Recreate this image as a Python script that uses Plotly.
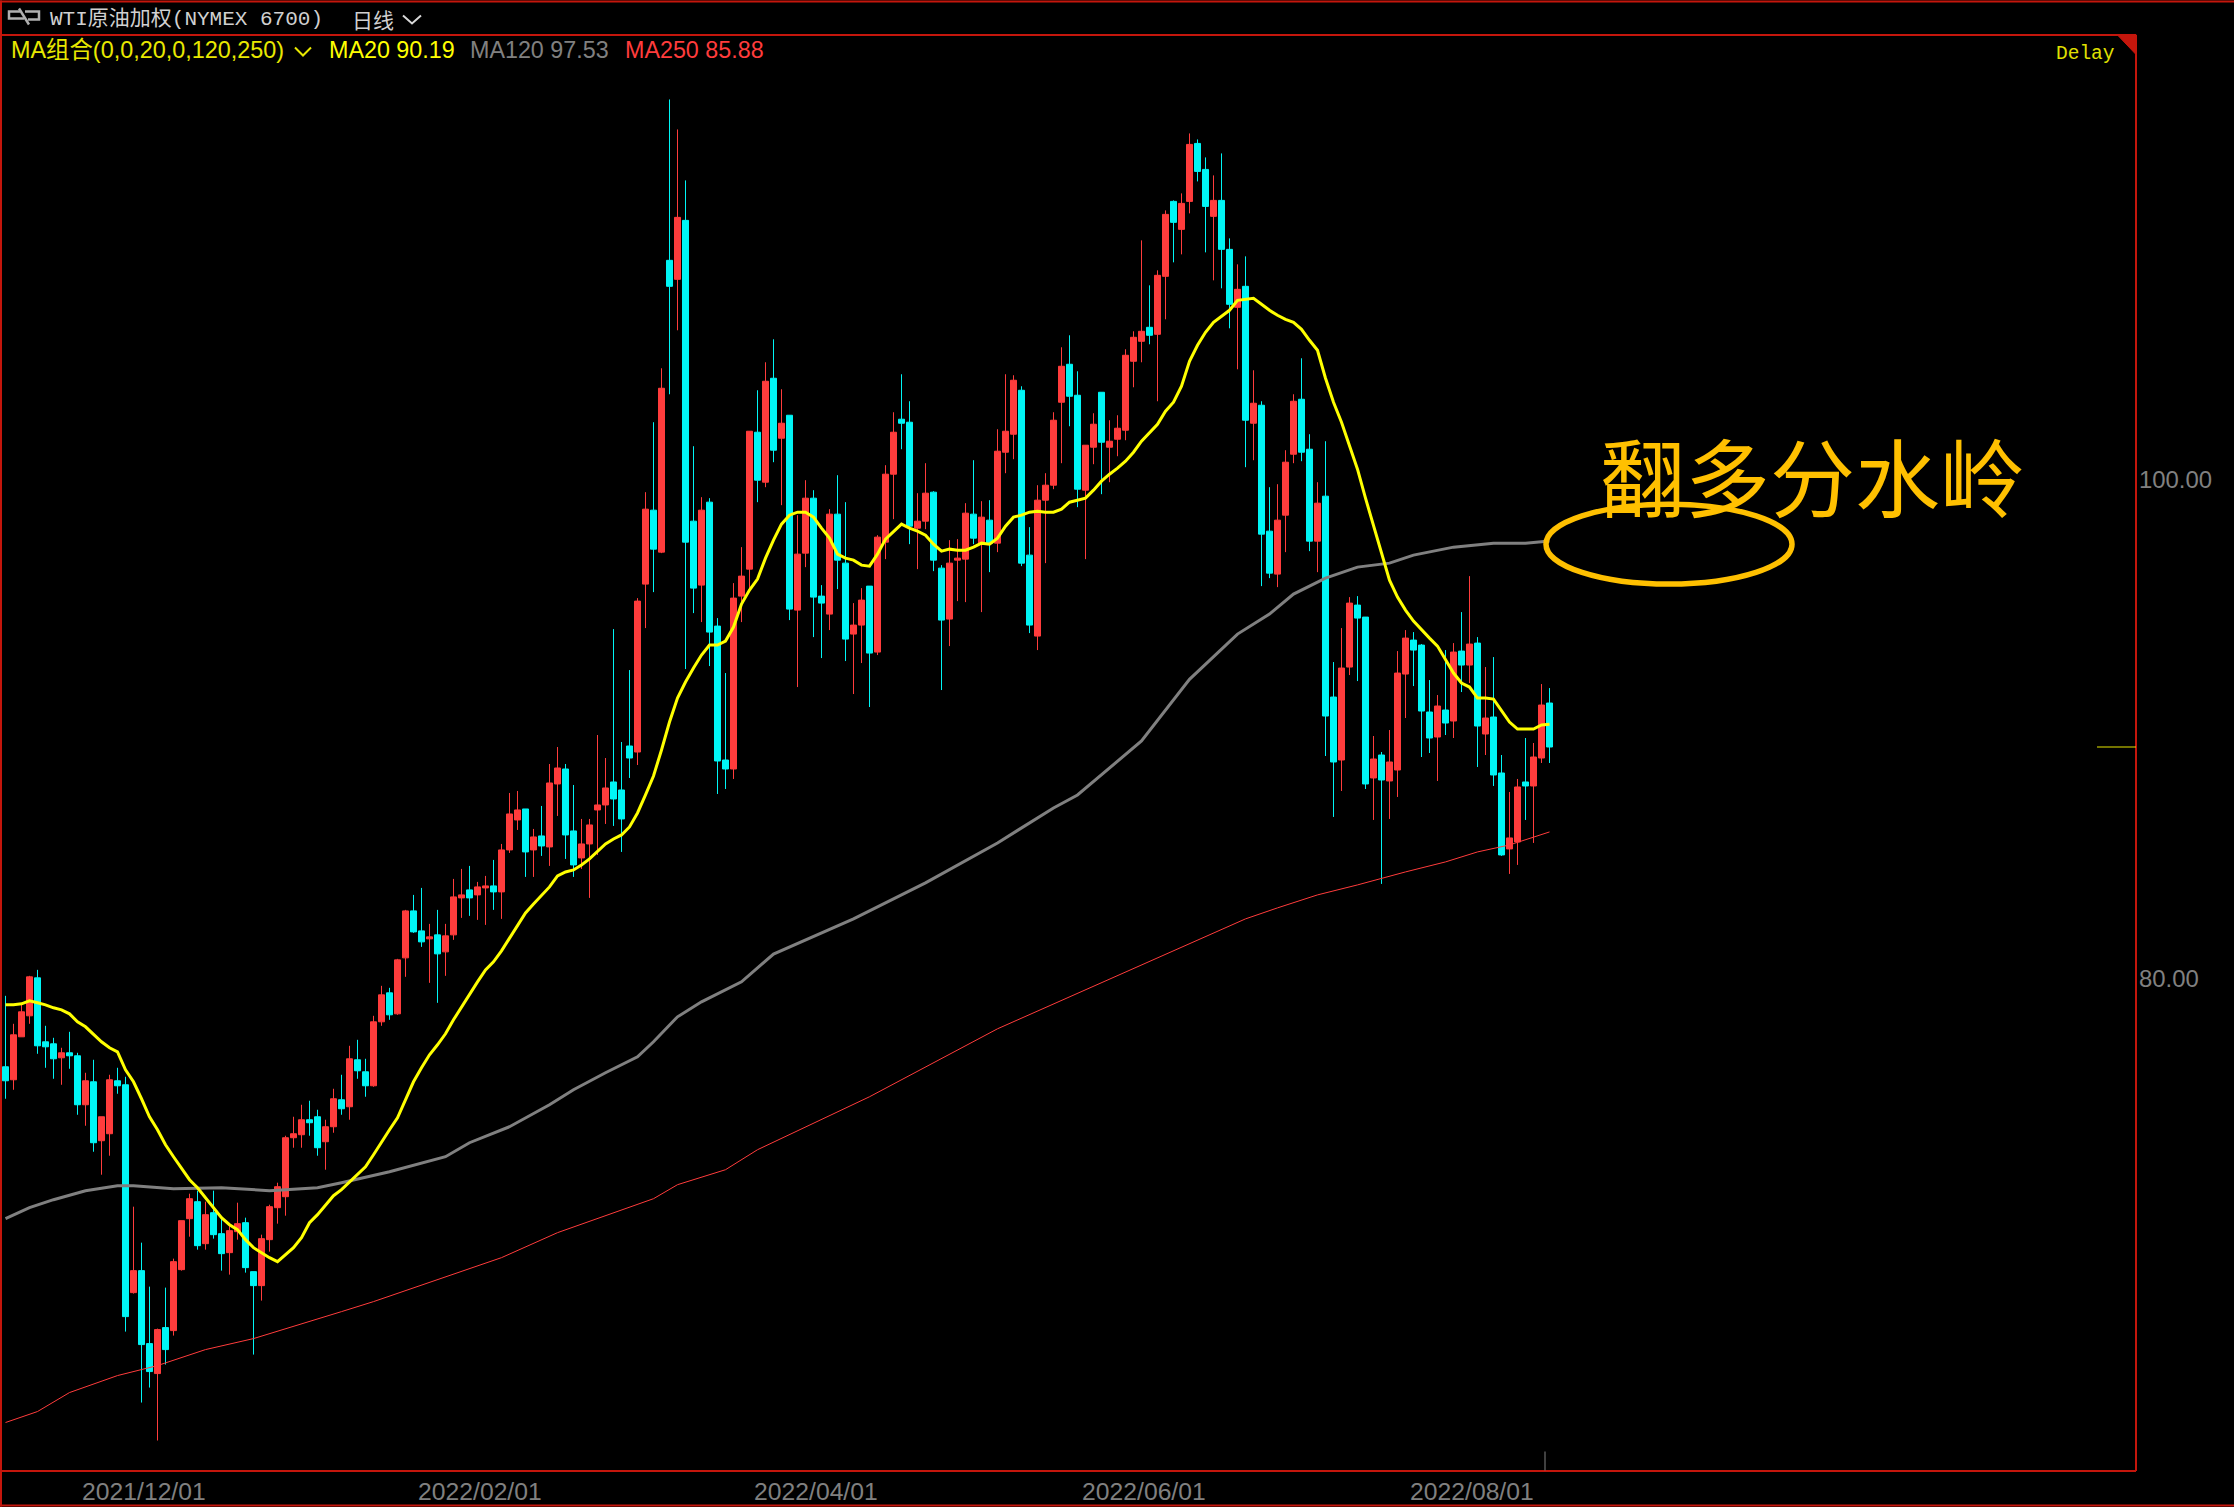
import plotly.graph_objects as go

directions = ("CRRRCCCRCC" "RCRRCCRCCR" "CRRRCRCCRR" "CCRRRRRRCC" "RRCRCCRRCR" "RCCRCRRRCR" "RCRRRCRCRR"
              "CCRRRRCCCR" "RCRCRCCRCC" "CRRRCRCRCR" "RCCRCCRRCR" "RRCCRRCCRR" "RCRCRRRCCR" "RRRCCRRCRR"
              "RRRCRRCRRC" "CRCCRCRCCR" "RRCCRCCRRC" "CRCRRRCCCR" "CRCRCRCCRR" "CRRC")

body_high = [
    76.48,77.76,78.68,80.08,80.04,77.48,77.40,77.04,77.04,76.92,
    75.92,75.88,74.48,75.96,75.92,75.76,68.32,68.32,65.40,65.96,
    66.04,68.68,70.32,71.20,71.08,70.56,70.64,69.80,69.92,70.20,
    70.24,68.28,69.60,70.88,71.68,73.64,73.80,74.36,74.36,74.48,
    74.08,75.20,75.16,76.80,76.76,76.28,78.28,79.36,79.44,80.76,
    82.72,82.72,81.92,81.68,81.76,81.72,83.28,83.36,83.56,83.68,
    83.72,83.72,85.16,86.60,86.76,86.80,85.68,85.72,87.84,88.44,
    88.40,85.92,85.40,86.16,86.96,87.64,87.88,87.56,89.32,95.12,
    98.80,98.76,103.64,108.76,110.48,110.36,98.32,98.76,99.08,94.12,
    88.76,95.24,96.12,101.92,101.88,103.92,104.04,102.24,102.56,97.00,
    99.24,99.24,95.32,98.60,98.60,96.64,94.16,95.16,95.72,97.68,
    100.20,101.88,102.40,102.28,98.32,99.44,99.48,96.44,96.64,96.84,
    98.64,98.60,98.48,98.36,101.12,101.92,103.96,103.56,96.96,99.16,
    99.76,102.36,104.52,104.60,103.36,101.36,102.20,103.48,101.52,102.04,
    104.96,105.68,105.92,106.08,108.16,110.60,111.12,111.04,113.40,113.44,
    112.40,111.16,111.16,109.20,107.60,107.72,103.04,102.96,97.92,98.36,
    100.68,103.12,103.20,101.20,99.04,99.32,91.28,92.44,95.04,94.96,
    94.48,88.80,88.96,88.68,92.24,93.64,93.56,93.36,90.68,90.92,
    90.76,93.08,93.12,93.40,93.44,90.44,90.48,88.24,85.64,87.68,
    87.88,88.88,90.96,91.04]

body_low = [
    75.92,75.96,77.68,78.52,77.32,77.28,76.80,76.84,76.92,74.96,
    74.96,73.44,73.52,73.80,75.72,66.48,67.44,65.36,64.28,64.20,
    65.16,65.92,68.36,70.40,69.32,69.40,69.76,69.00,69.04,69.88,
    68.44,67.72,67.72,69.56,70.84,71.28,73.64,73.76,74.24,73.24,
    73.48,74.08,74.80,74.88,76.32,75.72,75.72,78.28,78.56,78.60,
    80.84,81.88,81.48,81.60,81.00,81.08,81.76,83.24,83.24,83.36,
    83.64,83.48,83.48,85.16,86.36,85.08,85.16,85.32,85.28,87.80,
    85.76,84.56,84.84,85.40,86.76,86.96,87.20,86.40,88.84,89.08,
    95.80,97.20,97.08,107.72,108.00,97.48,95.64,95.76,93.88,88.72,
    88.40,88.40,95.32,96.40,99.96,99.88,101.16,101.64,94.80,94.76,
    97.04,95.28,95.04,94.60,96.76,93.60,93.80,94.16,93.04,93.08,
    97.48,100.20,102.24,98.12,98.04,98.32,96.76,94.36,94.40,96.76,
    96.80,97.64,97.44,97.44,97.44,101.08,101.80,96.64,94.16,93.72,
    99.16,99.76,103.08,103.32,99.60,99.56,101.28,101.48,101.28,101.60,
    101.96,104.72,105.52,105.76,105.80,108.12,110.28,110.00,111.12,112.32,
    110.92,110.52,109.20,107.00,106.88,102.36,102.24,97.80,96.24,96.20,
    98.56,101.00,101.08,97.52,97.52,90.52,88.68,88.76,92.48,94.44,
    87.80,88.04,87.96,87.92,88.36,92.20,93.16,90.72,89.64,89.68,
    90.24,90.32,92.56,92.56,90.12,89.80,88.16,84.96,85.20,85.48,
    87.72,87.72,88.84,89.28]

highs = [
    79.32,78.20,78.96,80.12,80.36,78.12,77.64,77.24,77.88,77.04,
    76.24,76.76,74.48,76.16,76.44,76.08,70.88,69.44,67.68,66.00,
    67.64,68.80,70.32,71.40,71.52,71.08,71.52,70.48,70.16,71.04,
    70.44,68.28,69.76,70.96,71.84,73.72,74.48,74.96,75.12,74.76,
    74.36,75.60,76.16,77.32,77.56,76.80,78.52,79.72,79.64,80.80,
    82.76,83.36,83.64,82.20,82.76,82.20,84.00,84.40,84.52,83.88,
    84.12,84.76,85.40,87.44,87.52,86.80,86.00,86.92,88.60,89.28,
    88.60,87.76,86.40,86.40,89.76,88.84,94.00,89.48,92.36,95.24,
    99.48,102.28,104.44,115.20,114.00,111.96,101.32,99.28,99.24,94.44,
    92.24,95.84,97.28,101.92,103.56,104.68,105.60,103.60,102.56,98.56,
    99.96,99.56,95.76,98.80,100.16,99.08,95.04,95.64,95.72,97.76,
    100.56,102.68,104.20,103.12,99.44,100.64,99.52,96.56,97.56,97.60,
    99.04,100.76,99.12,99.16,102.00,104.20,104.16,103.72,98.08,99.76,
    100.24,102.68,105.28,105.76,104.32,101.36,102.64,103.48,102.36,102.56,
    105.20,105.92,109.56,107.76,108.36,110.76,111.16,111.44,113.84,113.60,
    112.88,112.16,113.04,109.64,108.60,108.92,104.36,103.12,99.68,99.80,
    101.16,103.40,104.84,101.80,99.88,101.52,92.68,94.04,95.28,95.32,
    94.48,89.72,89.08,89.96,93.12,93.96,93.88,93.40,91.96,91.36,
    93.16,93.44,94.68,96.12,93.68,92.48,92.88,88.96,87.48,88.00,
    89.64,89.44,91.80,91.64]

lows = [
    75.20,75.56,77.68,78.20,77.00,76.44,76.00,75.76,76.40,74.56,
    74.12,73.08,72.16,72.92,75.40,65.88,67.40,63.04,63.64,61.52,
    64.56,65.72,68.32,69.68,69.16,69.16,69.60,68.32,68.16,69.56,
    68.24,64.96,67.12,69.08,70.20,70.52,73.24,73.24,73.72,72.92,
    72.36,73.84,74.56,74.36,76.00,75.28,75.68,78.12,78.36,78.56,
    80.08,81.84,81.28,79.84,79.04,80.12,81.56,82.44,82.52,82.36,
    82.16,82.76,82.40,85.04,85.96,84.08,84.08,84.92,84.52,86.52,
    84.80,84.08,84.40,83.24,84.96,86.20,86.12,85.08,88.04,88.56,
    94.04,95.48,97.04,103.40,105.96,92.40,94.64,94.28,92.52,87.40,
    87.60,88.00,94.28,95.56,99.08,99.68,100.68,98.96,94.36,91.68,
    96.48,93.68,92.84,93.96,95.60,92.72,91.40,92.64,90.88,92.96,
    96.80,98.40,101.20,97.40,96.40,98.00,96.32,91.56,93.32,95.12,
    95.08,97.40,94.68,96.28,97.08,100.24,100.80,96.52,93.84,93.16,
    96.64,99.60,100.64,102.12,98.88,96.80,100.60,99.40,99.88,100.92,
    101.56,103.68,104.68,105.40,103.12,106.40,108.68,109.00,110.64,111.92,
    109.08,107.96,107.64,106.04,104.40,100.48,100.76,95.72,96.04,95.68,
    97.08,100.64,100.72,97.12,96.28,88.92,86.48,87.52,92.16,91.92,
    87.60,86.36,83.80,86.40,87.28,90.44,91.72,88.88,89.04,87.92,
    89.76,89.64,91.48,91.84,88.48,88.96,87.72,84.92,84.20,84.56,
    86.36,85.44,88.64,88.64]

ma20 = [
    78.96,78.96,79.00,79.12,79.04,78.96,78.84,78.76,78.60,78.28,
    78.08,77.76,77.48,77.24,77.08,76.36,75.88,75.20,74.48,73.96,
    73.36,72.88,72.44,71.96,71.64,71.24,70.84,70.44,70.16,69.96,
    69.56,69.24,69.04,68.84,68.68,68.96,69.24,69.64,70.24,70.56,
    70.96,71.32,71.56,71.88,72.20,72.48,72.96,73.48,73.96,74.44,
    75.16,75.88,76.44,76.96,77.36,77.80,78.36,78.88,79.36,79.88,
    80.36,80.68,81.12,81.64,82.16,82.64,83.00,83.36,83.68,84.12,
    84.28,84.36,84.56,84.80,85.08,85.40,85.60,85.76,86.08,86.64,
    87.36,88.12,89.16,90.28,91.24,91.88,92.44,92.96,93.36,93.36,
    93.52,94.08,95.00,95.56,96.00,96.84,97.56,98.20,98.56,98.68,
    98.68,98.48,98.04,97.64,97.00,96.84,96.76,96.56,96.52,97.00,
    97.60,97.92,98.20,98.04,97.92,97.76,97.40,97.12,97.20,97.16,
    97.16,97.28,97.44,97.40,97.64,98.12,98.48,98.56,98.68,98.72,
    98.68,98.68,98.80,99.08,99.16,99.24,99.56,99.92,100.20,100.44,
    100.72,101.08,101.52,101.84,102.20,102.72,103.08,103.72,104.72,105.36,
    105.88,106.28,106.52,106.76,107.16,107.20,107.24,107.00,106.76,106.56,
    106.40,106.28,106.00,105.56,105.16,104.04,103.08,102.28,101.36,100.40,
    99.24,98.12,97.08,95.96,95.28,94.76,94.32,93.96,93.64,93.32,
    92.76,92.24,91.84,91.68,91.24,91.24,91.20,90.76,90.28,90.00,
    90.00,90.00,90.16,90.19]

ma120_idx = [0,3,6,10,14,16,21,27,33,39,42,48,55,58,63,68,71,75,79,81,84,87,92,94,96,106,115,124,131,134,142,
             148,154,158,161,165,169,173,176,181,186,190,192,193]
ma120_val = [70.40,70.84,71.16,71.52,71.72,71.72,71.60,71.64,71.52,71.64,71.84,72.28,72.88,73.44,74.08,74.96,
             75.56,76.24,76.88,77.48,78.48,79.08,79.88,80.44,80.99,82.40,83.84,85.44,86.84,87.36,89.52,
             91.99,93.80,94.60,95.40,96.04,96.48,96.64,96.96,97.28,97.44,97.44,97.52,97.53]

ma250_idx = [0,4,8,14,19,25,31,36,42,46,53,62,69,81,84,90,94,108,124,141,155,159,164,169,175,180,184,188,193]
ma250_val = [62.24,62.68,63.44,64.12,64.52,65.16,65.60,66.08,66.68,67.08,67.84,68.84,69.84,71.20,71.76,72.36,
             73.16,75.28,78.00,80.40,82.40,82.84,83.36,83.76,84.28,84.68,85.08,85.36,85.88]

x_tick_pos = [17.3, 59.3, 101.3, 142.3, 183.3]
x_tick_labels = ["2021/12/01", "2022/02/01", "2022/04/01", "2022/06/01", "2022/08/01"]
y_tick_vals = [100, 80]
y_tick_labels = ["100.00", "80.00"]

title_text = "WTI原油加权(NYMEX 6700)"
period_text = "日线"
ma_combo_text = "MA组合(0,0,20,0,120,250)"
ma20_text = "MA20 90.19"
ma120_text = "MA120 97.53"
ma250_text = "MA250 85.88"
callout_text = "翻多分水岭"

opens = [l if d == "R" else h for d, h, l in zip(directions, body_high, body_low)]
closes = [h if d == "R" else l for d, h, l in zip(directions, body_high, body_low)]
index = list(range(len(opens)))

W, H = 2234, 1507
L_, R_, T_, B_ = 2, 2136, 34.5, 1471.5
RED = "#FF3C3C"
CYAN = "#00F5F5"
BORDER = "#C4160C"
GOLD = "#FFC000"
GRAY = "#808080"


def px(x):
    return (x - L_) / (R_ - L_)


def py(y):
    return (B_ - y) / (B_ - T_)


fig = go.Figure()
fig.add_trace(go.Candlestick(
    x=index, open=opens, high=highs, low=lows, close=closes,
    increasing=dict(line=dict(color=RED, width=1), fillcolor=RED),
    decreasing=dict(line=dict(color=CYAN, width=1), fillcolor=CYAN),
    whiskerwidth=0, showlegend=False, hoverinfo="skip"))
fig.add_trace(go.Scatter(x=ma250_idx, y=ma250_val, mode="lines", line=dict(color=RED, width=1), showlegend=False, hoverinfo="skip"))
fig.add_trace(go.Scatter(x=ma120_idx, y=ma120_val, mode="lines", line=dict(color=GRAY, width=3), showlegend=False, hoverinfo="skip"))
fig.add_trace(go.Scatter(x=index, y=ma20, mode="lines", line=dict(color="#FFFF00", width=3), showlegend=False, hoverinfo="skip"))


def hline(y, x0, x1, color=BORDER, width=2):
    return dict(type="line", xref="paper", yref="paper", x0=px(x0), x1=px(x1), y0=py(y), y1=py(y),
                line=dict(color=color, width=width))


def vline(x, y0, y1, color=BORDER, width=2):
    return dict(type="line", xref="paper", yref="paper", x0=px(x), x1=px(x), y0=py(y0), y1=py(y1),
                line=dict(color=color, width=width))


def path(points, color, width=2, fill=None):
    d = "M " + " L ".join(f"{px(a):.5f},{py(b):.5f}" for a, b in points)
    if fill:
        d += " Z"
    return dict(type="path", xref="paper", yref="paper", path=d,
                line=dict(color=color, width=width), fillcolor=fill)


shapes = [
    hline(1, 0, W), hline(T_, 0, R_), hline(B_, 0, R_), hline(1506, 0, W),
    vline(1, 0, H), vline(R_, T_, B_),
    path([(2117, 34), (2136, 34), (2136, 54)], BORDER, 1, BORDER),
    vline(1545, 1452, 1471, GRAY, 1),
    dict(type="line", xref="paper", yref="y", x0=px(2097), x1=px(2136), y0=closes[-1], y1=closes[-1],
         line=dict(color="#E6E600", width=1)),
    dict(type="circle", xref="paper", yref="paper", x0=px(1546), x1=px(1792), y0=py(504), y1=py(584),
         line=dict(color=GOLD, width=5.5)),
    path([(403, 15), (412, 23), (421, 15)], "#D8D8D8", 2),
    path([(295, 47), (303, 55), (311, 47)], "#E8E800", 2),
    path([(20, 11), (9, 11), (9, 18), (24, 18)], "#B0B0B0", 2.5),
    path([(25, 11), (39, 11), (39, 19), (28, 19)], "#B0B0B0", 2.5),
    path([(19, 8), (29, 24)], "#B0B0B0", 2.5),
]

SANS = "Liberation Sans, Noto Sans CJK SC"
MONO = "Liberation Mono, Noto Sans CJK SC"
CJK = "Noto Sans CJK SC"


def label(x, y, text, color, size, family, anchor="left"):
    return dict(xref="paper", yref="paper", x=px(x), y=py(y), text=text, showarrow=False,
                xanchor=anchor, yanchor="middle", borderpad=0,
                font=dict(color=color, size=size, family=family))


annotations = [
    label(49, 18, title_text, "#D0D0D0", 21, MONO),
    label(351, 18, period_text, "#D0D0D0", 21, CJK),
    label(10, 50, ma_combo_text, "#E8E800", 23.4, SANS),
    label(328, 50, ma20_text, "#FFFF00", 23.3, SANS),
    label(469, 50, ma120_text, GRAY, 23.3, SANS),
    label(624, 50, ma250_text, RED, 23.3, SANS),
    label(2055, 54, "Delay", "#E0E000", 19.5, MONO),
    label(1812, 473, callout_text, GOLD, 85, CJK, "center"),
]

fig.update_layout(
    width=W, height=H, margin=dict(l=L_, r=W - R_, t=T_, b=H - B_),
    paper_bgcolor="#000000", plot_bgcolor="#000000", showlegend=False,
    boxgap=0.25, boxgroupgap=0, shapes=shapes, annotations=annotations, hovermode=False,
    xaxis=dict(range=[-0.4375, 266.3125], rangeslider=dict(visible=False), showgrid=False, zeroline=False,
               showline=False, tickmode="array", tickvals=x_tick_pos, ticktext=x_tick_labels,
               tickfont=dict(color=GRAY, size=24.7, family="Liberation Sans"), ticks="", ticklabelstandoff=3),
    yaxis=dict(range=[60.30, 117.78], side="right", showgrid=False, zeroline=False, showline=False,
               tickmode="array", tickvals=y_tick_vals, ticktext=y_tick_labels,
               tickfont=dict(color=GRAY, size=23.9, family="Liberation Sans"), ticks="", ticklabelstandoff=2),
)

fig.write_html("out.html", config=dict(displayModeBar=False),
               post_script="document.body.style.margin='0';document.body.style.overflow='hidden';document.body.style.background='#000';")
